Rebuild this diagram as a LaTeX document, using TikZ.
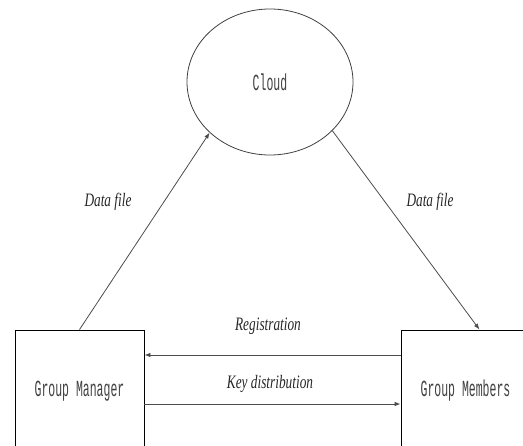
\documentclass[tikz,border=0pt]{standalone}
\usepackage{fontspec}
\usetikzlibrary{shapes.geometric,arrows.meta,calc}
\newfontfamily\monocond[FakeStretch=0.5]{Liberation Mono}
\newfontfamily\italcond[FakeStretch=0.7]{Liberation Serif Italic}
\begin{document}
\begin{tikzpicture}[x=1pt,y=-1pt,
  boxnode/.style={draw=black, line width=0.8pt, minimum width=129pt, minimum height=122pt, inner sep=0pt, font=\monocond\fontsize{23}{26}\selectfont, text=black!75},
  cloudnode/.style={draw=black!75, line width=0.8pt, ellipse, minimum width=166pt, minimum height=146pt, inner sep=0pt, font=\monocond\fontsize{23}{26}\selectfont, text=black!75},
  lbl/.style={font=\italcond\fontsize{19}{22}\selectfont, text=black!85},
  conn/.style={draw=black!70, line width=0.8pt, -{Latex[length=6pt,width=4.5pt]}}]
\useasboundingbox (0,0) rectangle (523,446);
\clip (0,0) rectangle (523,446);
\node[cloudnode] (cloud) at (270,82) {Cloud};
\node[boxnode] (gm) at (79.5,391) {Group Manager};
\node[boxnode] (gmem) at (465.5,391) {Group Members};
\draw[conn] (gm.north) -- (cloud.220);
\draw[conn] (cloud.322) -- ([xshift=14pt]gmem.north);
\draw[conn] ($(gmem.west)+(0,-36)$) -- ($(gm.east)+(0,-36)$);
\draw[conn] ($(gm.east)+(0,13)$) -- ($(gmem.west)+(0,13)$);
\node[lbl] (l1) at (108,202) {Data file};
\node[lbl] (l2) at (430,202) {Data file};
\node[lbl] (l3) at (268,326) {Registration};
\node[lbl] (l4) at (270,384) {Key distribution};
\end{tikzpicture}
\end{document}
